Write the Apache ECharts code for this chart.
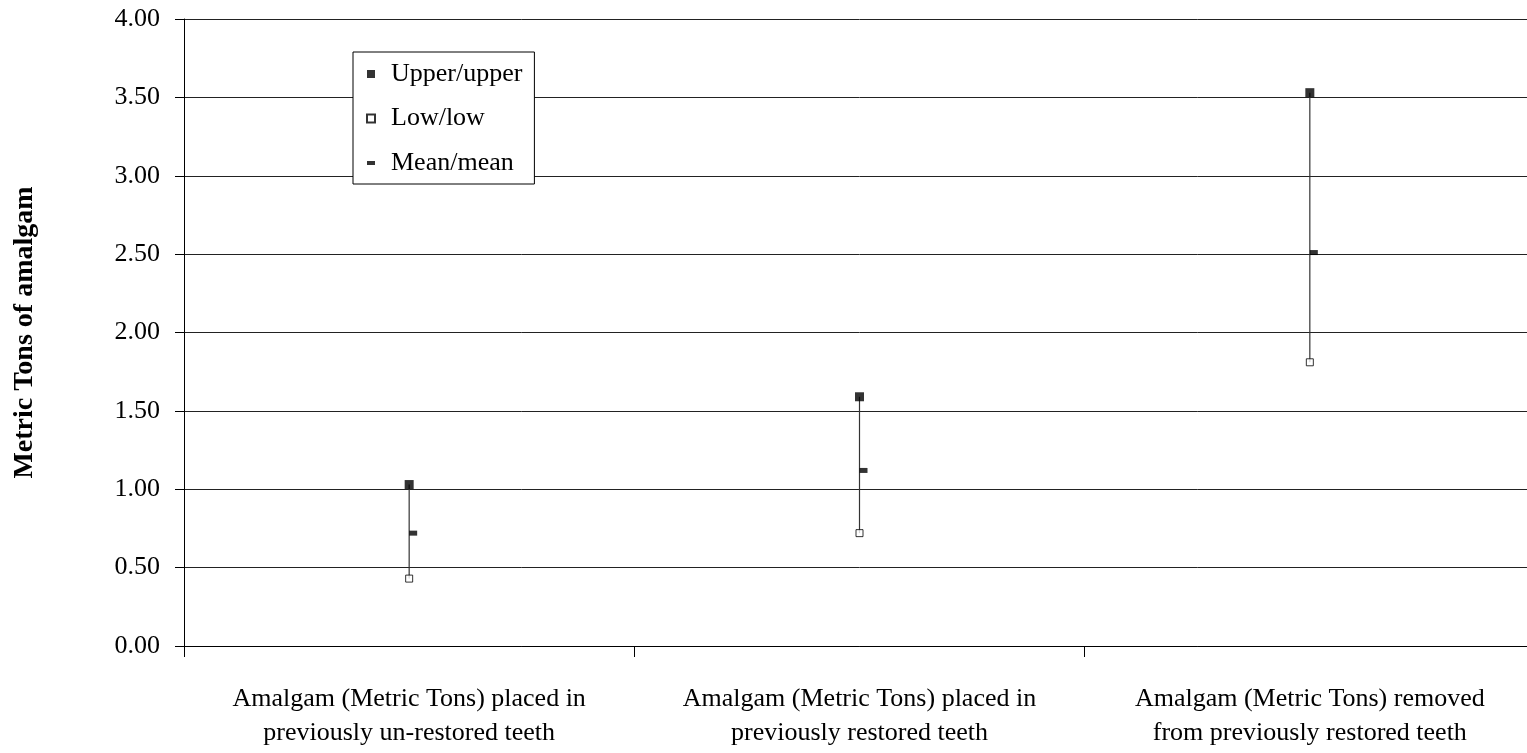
<!DOCTYPE html>
<html>
<head>
<meta charset="utf-8">
<script src="https://cdn.jsdelivr.net/npm/echarts@6/dist/echarts.min.js"></script>
<style>html,body{margin:0;padding:0;background:#fff;overflow:hidden;width:1527px;height:753px;}#c{width:1535px;height:753px;}</style>
</head>
<body>
<div id="c"></div>
<script>
const categories = [
  'Amalgam (Metric Tons) placed in\npreviously un-restored teeth',
  'Amalgam (Metric Tons) placed in\npreviously restored teeth',
  'Amalgam (Metric Tons) removed\nfrom previously restored teeth'
];
const upper = [1.03, 1.59, 3.53];
const low = [0.43, 0.72, 1.81];
const mean = [0.72, 1.12, 2.51];
const yTicks = [0, 0.5, 1, 1.5, 2, 2.5, 3, 3.5, 4];

const FONT = '"Liberation Serif", "Times New Roman", serif';
const chart = echarts.init(document.getElementById('c'), null, {renderer: 'canvas'});
const hiLo = categories.map((c, i) => [i, low[i], upper[i]]);

chart.setOption({
  animation: false,
  backgroundColor: '#fff',
  textStyle: {fontFamily: FONT, color: '#000'},
  grid: {left: 184, top: 19, bottom: 107, right: 0, containLabel: false},
  legend: {
    left: 353, top: 52, orient: 'vertical',
    backgroundColor: '#fff', borderColor: '#000', borderWidth: 1,
    padding: [9, 12, 8, 13],
    itemWidth: 8, itemHeight: 8, itemGap: 18.5,
    textStyle: {fontFamily: FONT, fontSize: 26, color: '#000', padding: [0, 0, 0, 11]},
    data: [
      {name: 'Upper/upper', icon: 'rect'},
      {name: 'Low/low', icon: 'rect'},
      {name: 'Mean/mean', icon: 'path://M0,0M0,2h8v4h-8zM8,8'}
    ],
    selectedMode: false
  },
  xAxis: {
    type: 'category', data: categories, boundaryGap: true,
    axisLine: {lineStyle: {color: '#000', width: 1}},
    axisTick: {show: true, length: 11, lineStyle: {color: '#000'}},
    axisLabel: {fontFamily: FONT, fontSize: 26, color: '#000', margin: 36, lineHeight: 34, interval: 0},
    splitLine: {show: false}
  },
  yAxis: {
    type: 'value', min: 0, max: 4, interval: 0.5,
    name: 'Metric Tons of amalgam', nameLocation: 'middle', nameGap: 145,
    nameTextStyle: {fontFamily: FONT, fontSize: 28, fontWeight: 'bold', color: '#000'},
    axisLine: {show: true, lineStyle: {color: '#000', width: 1}},
    axisTick: {show: true, length: 9, lineStyle: {color: '#000'}},
    axisLabel: {fontFamily: FONT, fontSize: 26, color: '#000', margin: 24,
      formatter: v => v.toFixed(2)},
    splitLine: {show: true, lineStyle: {color: '#222', width: 1}}
  },
  series: [
    {
      type: 'custom', name: 'hilo', z: 2,
      data: hiLo,
      renderItem: (params, api) => {
        const p1 = api.coord([api.value(0), api.value(1)]);
        const p2 = api.coord([api.value(0), api.value(2)]);
        return {type: 'line', shape: {x1: p1[0], y1: p1[1], x2: p2[0], y2: p2[1]},
          style: {stroke: '#333', lineWidth: 1.2}};
      }
    },
    {
      type: 'scatter', name: 'Upper/upper', z: 3, data: upper,
      symbol: 'rect', symbolSize: 9,
      itemStyle: {color: '#000'}
    },
    {
      type: 'scatter', name: 'Low/low', z: 3, data: low,
      symbol: 'rect', symbolSize: 7,
      itemStyle: {color: '#fff', borderColor: '#000', borderWidth: 1}
    },
    {
      type: 'scatter', name: 'Mean/mean', z: 3, data: mean,
      symbol: 'rect', symbolSize: [8, 5], symbolOffset: [4, 0],
      itemStyle: {color: '#000'}
    }
  ]
});
</script>
</body>
</html>
